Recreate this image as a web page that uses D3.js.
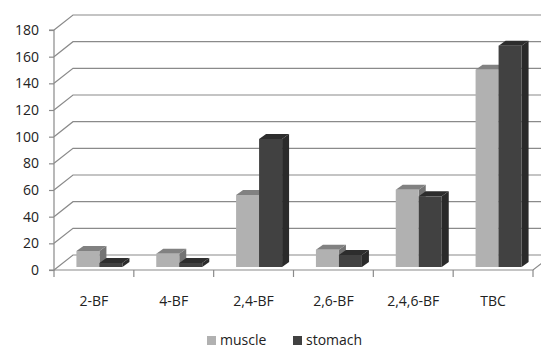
<!DOCTYPE html>
<html><head><meta charset="utf-8">
<script src="https://cdn.jsdelivr.net/npm/d3@7"></script>
<style>body{margin:0;background:#fff}svg{display:block}</style>
</head><body><svg id="c" width="541" height="349"></svg>
<script>
const categories = ["2-BF","4-BF","2,4-BF","2,6-BF","2,4,6-BF","TBC"];
const seriesNames = ["muscle","stomach"];
const muscle = [12, 10, 54, 13, 58, 148];
const stomach = [3, 3, 96, 9, 53, 166];
const yTicks = [0,20,40,60,80,100,120,140,160,180];

const svg = d3.select("#c");
const font = "'Open Sans', 'Noto Sans', sans-serif";
const x = d3.scaleBand().domain(categories).range([54, 533]);
const y = d3.scaleLinear().domain([0, 180]).range([270, 30]);
const sub = d3.scaleBand().domain(seriesNames).range([-23, 23]);
const wallDx = 19, wallDy = -15;
const barOffX = 5.5, barOffY = -3;
const depthX = 7, depthY = -5;
const gridColor = "#8a8a8a";

// back wall gridlines with diagonal from front axis
svg.append("g").selectAll("path").data(yTicks).join("path")
  .attr("d", t => `M54,${y(t)}L${54+wallDx},${y(t)+wallDy}L${533+wallDx},${y(t)+wallDy}`)
  .attr("fill", "none").attr("stroke", gridColor).attr("stroke-width", 1.2);

// front floor edge + right diagonal
svg.append("path")
  .attr("d", `M54,${y(0)}L533,${y(0)}L${533+wallDx},${y(0)+wallDy}`)
  .attr("fill","none").attr("stroke", gridColor).attr("stroke-width", 1.2);

// y axis
const yAxis = d3.axisLeft(y).tickValues(yTicks).tickSize(5).tickPadding(10);
const ya = svg.append("g").attr("transform","translate(54,0)").call(yAxis);
ya.select(".domain").attr("stroke", gridColor).attr("stroke-width",1.2).attr("d", `M-5,${y(180)}H0V${y(0)}H-5`);
ya.selectAll(".tick line").attr("stroke", gridColor).attr("stroke-width",1.2);
ya.selectAll("text").attr("font-family", font).attr("font-size", 14).attr("fill", "#222");

// x axis ticks and labels
const bounds = categories.map(c => x(c)).concat([533]);
svg.append("g").selectAll("line").data(bounds).join("line")
  .attr("x1", d => d).attr("x2", d => d).attr("y1", y(0)).attr("y2", y(0)+7)
  .attr("stroke", gridColor).attr("stroke-width", 1.2);
svg.append("g").selectAll("text").data(categories).join("text")
  .attr("x", c => x(c) + x.bandwidth()/2).attr("y", 306)
  .attr("text-anchor","middle").attr("font-family", font).attr("font-size", 14).attr("fill","#222")
  .text(c => c);

// bars
const colors = {
  muscle: {front:"#b1b1b1", top:"#818181", side:"#747474"},
  stomach:{front:"#414141", top:"#2d2d2d", side:"#2a2a2a"}
};
const data = [];
categories.forEach((c,i) => {
  data.push({cat:c, s:"muscle", v:muscle[i]});
  data.push({cat:c, s:"stomach", v:stomach[i]});
});
const bars = svg.append("g").selectAll("g").data(data).join("g");
bars.each(function(d){
  const g = d3.select(this);
  const cx = x(d.cat) + x.bandwidth()/2;
  const x0 = cx + sub(d.s) + barOffX, x1 = x0 + sub.bandwidth();
  const yb = y(0) + barOffY, yt = y(d.v) + barOffY;
  const col = colors[d.s];
  g.append("path").attr("d", `M${x1},${yt}L${x1+depthX},${yt+depthY}L${x1+depthX},${yb+depthY}L${x1},${yb}Z`).attr("fill", col.side);
  g.append("path").attr("d", `M${x0},${yt}L${x0+depthX},${yt+depthY}L${x1+depthX},${yt+depthY}L${x1},${yt}Z`).attr("fill", col.top);
  g.append("rect").attr("x", x0).attr("y", yt).attr("width", x1-x0).attr("height", yb-yt).attr("fill", col.front);
});

// legend
const legend = [{name:"muscle", x:207}, {name:"stomach", x:293}];
const lg = svg.append("g").selectAll("g").data(legend).join("g")
  .attr("transform", d => `translate(${d.x},336)`);
lg.append("rect").attr("width", 9).attr("height", 9).attr("fill", d => colors[d.name].front);
lg.append("text").attr("x", 13).attr("y", 9).attr("font-family", font).attr("font-size", 14).attr("fill","#222").text(d => d.name);
</script></body></html>
